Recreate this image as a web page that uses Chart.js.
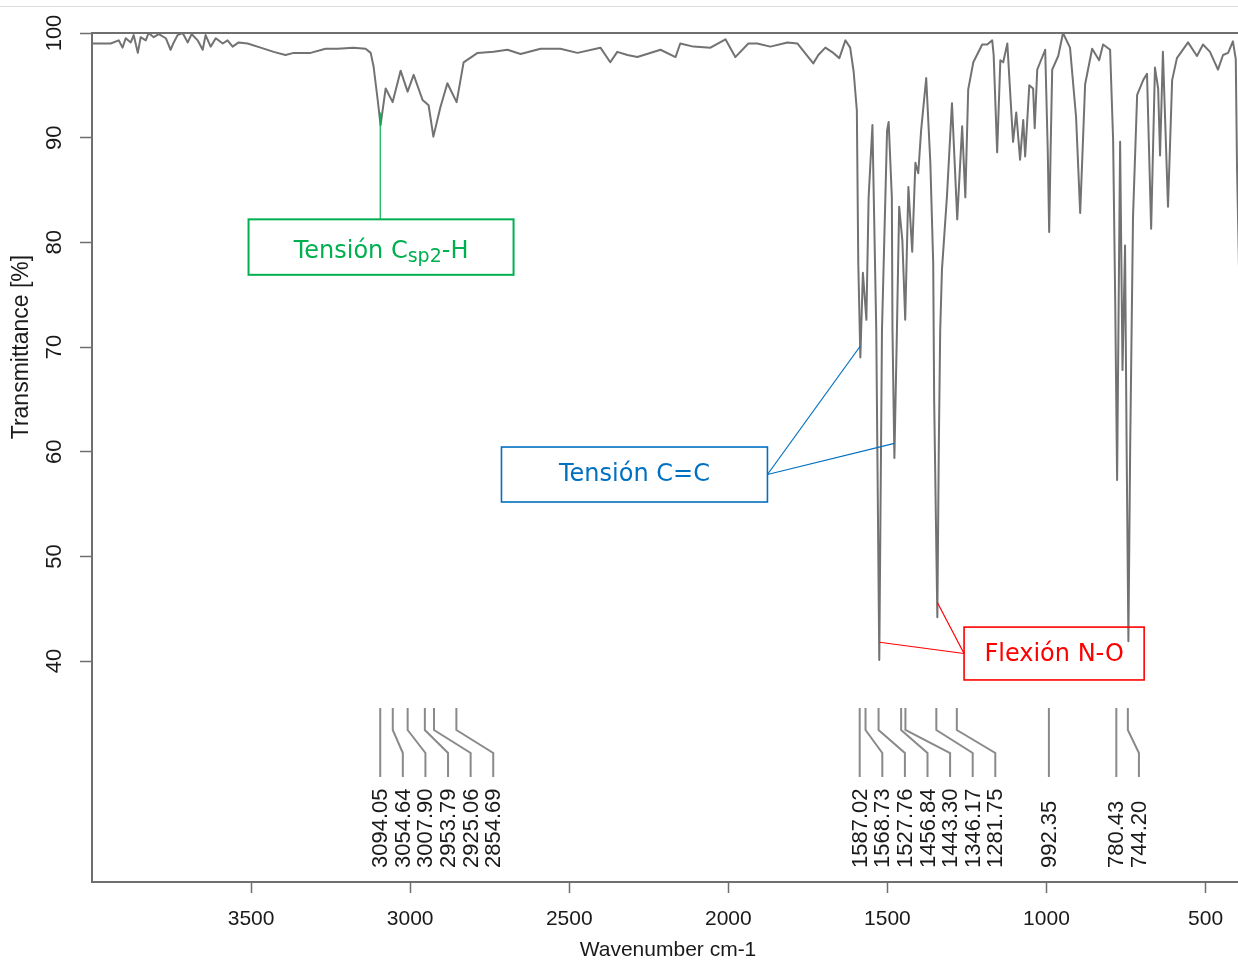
<!DOCTYPE html>
<html>
<head>
<meta charset="utf-8">
<script src="https://cdn.jsdelivr.net/npm/chart.js@4.4.1/dist/chart.umd.min.js"></script>
<style>
  body { margin: 0; background: #ffffff; }
  canvas { display: block; }
</style>
</head>
<body>
<canvas id="ir-chart" width="1238" height="964"></canvas>
<script>
// Espectro IR: número de onda (cm-1) y transmitancia (%)
var wavenumbers = [
  3998, 3941, 3916, 3904, 3894, 3878, 3869, 3856, 3847, 3831, 3822, 3806, 3790, 3768, 3753, 3743,
  3731, 3715, 3699, 3687, 3668, 3652, 3643, 3627, 3611, 3589, 3574, 3558, 3539, 3511, 3470, 3429,
  3392, 3366, 3313, 3266, 3228, 3178, 3140, 3124, 3115, 3102, 3093, 3077, 3055, 3030, 3008, 2989,
  2961, 2942, 2927, 2905, 2883, 2854, 2832, 2788, 2738, 2694, 2653, 2590, 2528, 2474, 2402, 2371,
  2349, 2317, 2286, 2213, 2166, 2151, 2110, 2056, 2009, 1978, 1937, 1909, 1868, 1814, 1783, 1733,
  1717, 1695, 1670, 1651, 1632, 1617, 1606, 1596, 1591.5, 1585, 1577, 1566, 1559, 1547, 1535, 1525.5,
  1517, 1501, 1496, 1486, 1484, 1478, 1470, 1463, 1453, 1444, 1434, 1422, 1412, 1403, 1394, 1378,
  1365, 1356, 1353, 1343, 1338.5, 1334, 1328.5, 1313, 1297, 1280.5, 1265, 1255, 1246, 1230, 1202, 1186,
  1170.5, 1166, 1155, 1145, 1136, 1123, 1105, 1095, 1083, 1073, 1067, 1054, 1042, 1037, 1029, 1004,
  996, 991.5, 987, 982, 963, 948, 926, 907, 894, 878.5, 856.5, 834.5, 822, 800, 790.5, 784,
  778, 773, 768.5, 761, 753, 748, 742.5, 737, 728, 715, 696, 684, 671, 659, 649, 643,
  634, 618, 605, 590, 555, 527, 508, 486, 461, 445, 429, 414, 405, 401, 398, 390
];
var transmittance = [
  99.0, 99.0, 99.3, 98.6, 99.5, 99.1, 99.8, 98.1, 99.6, 99.3, 100.0, 99.6, 99.9, 99.5, 98.4, 99.1,
  99.8, 100.0, 99.1, 99.9, 99.3, 98.4, 99.8, 98.7, 99.5, 99.0, 99.3, 98.7, 99.1, 99.0, 98.6, 98.2,
  97.9, 98.1, 98.1, 98.5, 98.5, 98.6, 98.5, 98.1, 96.8, 93.6, 91.2, 94.7, 93.4, 96.4, 94.4, 96.0,
  93.6, 93.1, 90.1, 92.9, 95.2, 93.4, 97.2, 98.1, 98.2, 98.4, 98.0, 98.5, 98.5, 98.1, 98.6, 97.2,
  98.2, 97.9, 97.7, 98.4, 97.7, 99.0, 98.7, 98.6, 99.4, 97.7, 99.0, 99.0, 98.7, 99.1, 99.0, 97.1,
  97.9, 98.6, 98.1, 97.6, 99.3, 98.6, 96.3, 92.6, 78.0, 69.0, 77.1, 72.6, 84.3, 91.2, 71.6, 40.1,
  71.6, 90.7, 91.5, 84.3, 71.6, 59.4, 71.6, 83.4, 80.2, 72.6, 85.3, 79.1, 87.6, 86.6, 90.7, 95.7,
  87.6, 78.0, 64.9, 44.2, 60.2, 71.6, 77.4, 84.3, 93.3, 82.2, 91.1, 84.3, 94.6, 97.2, 98.9, 98.9,
  99.3, 97.9, 88.6, 97.4, 97.2, 99.0, 89.6, 92.4, 87.9, 91.7, 88.2, 95.0, 94.7, 90.9, 96.5, 98.4,
  88.8, 81.0, 88.8, 96.5, 97.8, 100.0, 98.6, 92.0, 82.8, 95.1, 98.5, 97.4, 98.9, 98.4, 89.8, 74.5,
  57.3, 74.5, 89.6, 67.8, 79.7, 60.2, 41.9, 60.2, 82.4, 94.1, 95.5, 96.1, 81.3, 96.7, 94.7, 88.3,
  98.2, 83.4, 95.5, 97.6, 99.1, 97.8, 98.9, 98.2, 96.5, 97.9, 98.1, 99.2, 97.5, 87.0, 82.5, 70.0
];

// Picos marcados debajo del espectro
var peakLabels = ['3094.05', '3054.64', '3007.90', '2953.79', '2925.06', '2854.69',
  '1587.02', '1568.73', '1527.76', '1456.84', '1443.30', '1346.17', '1281.75',
  '992.35', '780.43', '744.20'];

// Marcas de los ejes
var xTicks = [3500, 3000, 2500, 2000, 1500, 1000, 500];
var yTicks = [100, 90, 80, 70, 60, 50, 40];

// Cajas de asignación: [número de onda izq., der., transmitancia sup., inf.]
var boxCsp2 = [3508, 2675, 82.2, 76.9];
var boxCC = [2713, 1877, 60.45, 55.2];
var boxNO = [1259, 693, 43.25, 38.2];
// Puntos del espectro a los que apuntan las flechas
var leaderCsp2 = [[3094, 92.4]];
var leaderCC = [[1585, 70.1], [1478, 60.8]];
var leaderNO = [[1525, 41.8], [1343, 45.6]];

var points = wavenumbers.map(function(w, i) {
  return { x: w, y: transmittance[i] };
});

var GRAY = '#6f6f6f';
var TEXT = '#1a1a1a';

function drawBox(chart, box, leaders, color, lineWidth, leaderFrom) {
  var ctx = chart.ctx;
  var xs = chart.scales.x, ys = chart.scales.y;
  var x1 = xs.getPixelForValue(box[0]), x2 = xs.getPixelForValue(box[1]);
  var y1 = ys.getPixelForValue(box[2]), y2 = ys.getPixelForValue(box[3]);
  ctx.strokeStyle = color;
  ctx.lineWidth = lineWidth;
  ctx.strokeRect(x1, y1, x2 - x1, y2 - y1);
  ctx.lineWidth = 1.2;
  leaders.forEach(function(p) {
    var sx, sy;
    if (leaderFrom === 'top') { sx = xs.getPixelForValue(p[0]); sy = y1; }
    else if (leaderFrom === 'right') { sx = x2; sy = (y1 + y2) / 2; }
    else { sx = x1; sy = (y1 + y2) / 2; }
    ctx.beginPath();
    ctx.moveTo(sx, sy);
    ctx.lineTo(xs.getPixelForValue(p[0]), ys.getPixelForValue(p[1]));
    ctx.stroke();
  });
  return { cx: (x1 + x2) / 2, cy: (y1 + y2) / 2 };
}

var irPlugin = {
  id: 'irAnnotations',
  afterDraw: function(chart) {
    var ctx = chart.ctx;
    var xs = chart.scales.x, ys = chart.scales.y;
    var area = chart.chartArea;
    ctx.save();

    // línea clara arriba
    ctx.strokeStyle = '#dddddd';
    ctx.lineWidth = 1;
    ctx.beginPath();
    ctx.moveTo(0, 6.5);
    ctx.lineTo(chart.width, 6.5);
    ctx.stroke();

    // marco del gráfico
    ctx.strokeStyle = GRAY;
    ctx.lineWidth = 2;
    ctx.strokeRect(area.left, area.top, area.right - area.left + 4, area.bottom - area.top);

    // etiquetas del eje y (rotadas)
    ctx.fillStyle = TEXT;
    ctx.font = '22px "Liberation Sans", Arial, sans-serif';
    ctx.textAlign = 'center';
    ctx.textBaseline = 'middle';
    yTicks.forEach(function(v) {
      ctx.save();
      ctx.translate(55, ys.getPixelForValue(v));
      ctx.rotate(-Math.PI / 2);
      ctx.fillText(String(v), 0, 0);
      ctx.restore();
    });

    // títulos de los ejes
    ctx.save();
    ctx.font = '23px "Liberation Sans", Arial, sans-serif';
    ctx.translate(22, ys.getPixelForValue(70));
    ctx.rotate(-Math.PI / 2);
    ctx.fillText('Transmittance [%]', 0, 0);
    ctx.restore();
    ctx.font = '21px "Liberation Sans", Arial, sans-serif';
    ctx.fillText('Wavenumber cm-1', (area.left + area.right) / 2 + 3, 950);

    // picos: líneas quebradas y etiquetas verticales
    var gap = 22.6;
    var prev = -Infinity;
    ctx.strokeStyle = '#8a8a8a';
    ctx.lineWidth = 2;
    ctx.font = '22px "Liberation Sans", Arial, sans-serif';
    ctx.textAlign = 'left';
    peakLabels.forEach(function(lbl) {
      var px = xs.getPixelForValue(parseFloat(lbl));
      var lx = Math.max(px, prev + gap);
      prev = lx;
      ctx.beginPath();
      ctx.moveTo(px, 708);
      ctx.lineTo(px, 730);
      ctx.lineTo(lx, 753);
      ctx.lineTo(lx, 777);
      ctx.stroke();
      ctx.save();
      ctx.translate(lx, 868);
      ctx.rotate(-Math.PI / 2);
      ctx.fillText(lbl, 0, 1);
      ctx.restore();
    });

    // cajas de asignación
    var fontBox = '24px "DejaVu Sans", Verdana, sans-serif';
    var fontSub = '19px "DejaVu Sans", Verdana, sans-serif';
    ctx.textBaseline = 'middle';

    var g = drawBox(chart, boxCsp2, leaderCsp2, '#00b050', 2, 'top');
    ctx.fillStyle = '#00b050';
    ctx.textAlign = 'left';
    ctx.font = fontBox;
    var w1 = ctx.measureText('Tensión C').width;
    var w3 = ctx.measureText('-H').width;
    ctx.font = fontSub;
    var w2 = ctx.measureText('sp2').width;
    var sx = g.cx - (w1 + w2 + w3) / 2;
    var ty = g.cy + 5;
    ctx.font = fontBox;
    ctx.fillText('Tensión C', sx, ty);
    ctx.font = fontSub;
    ctx.fillText('sp2', sx + w1, ty + 5);
    ctx.font = fontBox;
    ctx.fillText('-H', sx + w1 + w2, ty);

    var b = drawBox(chart, boxCC, leaderCC, '#0070c0', 1.6, 'right');
    ctx.fillStyle = '#0070c0';
    ctx.textAlign = 'center';
    ctx.fillText('Tensión C=C', b.cx, b.cy);

    var r = drawBox(chart, boxNO, leaderNO, '#ff0000', 1.6, 'left');
    ctx.fillStyle = '#ff0000';
    ctx.fillText('Flexión N-O', r.cx, r.cy + 1);

    ctx.restore();
  }
};

var ctx = document.getElementById('ir-chart').getContext('2d');
var irChart = new Chart(ctx, {
  type: 'line',
  data: {
    datasets: [{
      data: points,
      borderColor: '#727272',
      borderWidth: 2,
      borderJoinStyle: 'round',
      pointRadius: 0,
      tension: 0
    }]
  },
  options: {
    responsive: false,
    animation: false,
    layout: { padding: { top: 33, left: 0, right: 0, bottom: 0 } },
    plugins: {
      legend: { display: false },
      tooltip: { enabled: false }
    },
    scales: {
      x: {
        type: 'linear',
        reverse: true,
        min: 398,
        max: 4000,
        afterBuildTicks: function(scale) {
          scale.ticks = xTicks.map(function(v) { return { value: v }; });
        },
        afterFit: function(scale) { scale.height = 82; },
        border: { display: false },
        grid: { drawOnChartArea: false, drawTicks: true, tickLength: 11, tickColor: GRAY, tickWidth: 1.5 },
        ticks: {
          color: TEXT,
          font: { family: '"Liberation Sans", Arial, sans-serif', size: 21 },
          padding: 14,
          maxRotation: 0,
          autoSkip: false,
          callback: function(v) { return String(v); }
        }
      },
      y: {
        min: 18.9,
        max: 100,
        afterBuildTicks: function(scale) {
          scale.ticks = yTicks.map(function(v) { return { value: v }; });
        },
        afterFit: function(scale) { scale.width = 92; },
        border: { display: false },
        grid: { drawOnChartArea: false, drawTicks: true, tickLength: 12, tickColor: GRAY, tickWidth: 1.5 },
        ticks: { display: false }
      }
    }
  },
  plugins: [irPlugin]
});
</script>
</body>
</html>
